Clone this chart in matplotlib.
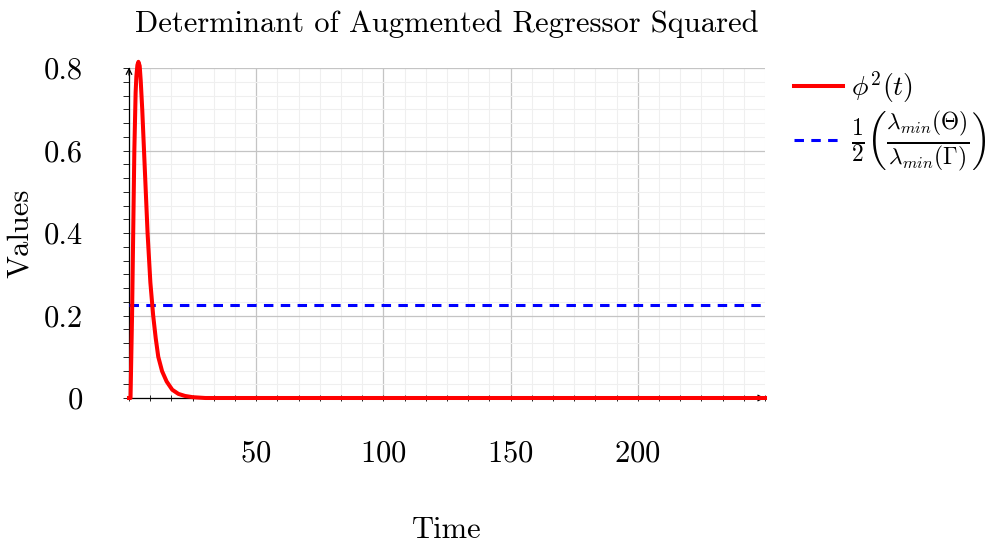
import numpy as np
import matplotlib
matplotlib.use("Agg")
import matplotlib.pyplot as plt
from matplotlib.ticker import MultipleLocator, FixedLocator

plt.rcParams['font.family'] = 'cmr10'
plt.rcParams['mathtext.fontset'] = 'cm'
plt.rcParams['axes.unicode_minus'] = False
plt.rcParams['axes.formatter.use_mathtext'] = True

# phi^2(t) samples and the constant bound
time = [0, 0.6, 1.2, 2.1, 2.6, 2.9, 3.3, 3.7, 4.2, 4.6, 5.2, 5.9, 6.6, 7.3,
        8.4, 9.5, 10.5, 11.5, 13.0, 14.8, 17.0, 19.4, 22.0, 25.0, 30.0, 250]
phi_sq = [0, 0, 0.2, 0.6, 0.74, 0.78, 0.807, 0.815, 0.805, 0.77, 0.7, 0.6,
          0.5, 0.4, 0.28, 0.2, 0.145, 0.1, 0.065, 0.04, 0.02, 0.01, 0.005,
          0.002, 0, 0]
bound_t = [0, 250]
bound = [0.225, 0.225]

x_major = [50, 100, 150, 200]
y_major = [0, 0.2, 0.4, 0.6, 0.8]
y_labels = ["0", "0.2", "0.4", "0.6", "0.8"]

fig = plt.figure(figsize=(9.98, 5.44), dpi=100)
ax = fig.add_axes([129/998, 146/544, 636/998, 330/544])

ax.plot(time, phi_sq, color='#ff0000', lw=2.9, label=r'$\phi^2(t)$',
        clip_on=False, zorder=4, solid_joinstyle='round')
ax.plot(bound_t, bound, color='#0000ff', lw=2.2, dashes=(3.1, 2.4),
        label=r'$\frac{1}{2}\left(\frac{\lambda_{min}(\mathbf{\Theta})}{\lambda_{min}(\mathbf{\Gamma})}\right)$',
        zorder=3)

ax.set_xlim(0, 250)
ax.set_ylim(0, 0.8)
ax.xaxis.set_major_locator(FixedLocator(x_major))
ax.xaxis.set_minor_locator(MultipleLocator(50/6))
ax.set_yticks(y_major)
ax.set_yticklabels(y_labels)
ax.yaxis.set_minor_locator(MultipleLocator(0.2/6))

ax.grid(which='major', color='#c4c4c4', lw=0.9)
ax.grid(which='minor', color='#efefef', lw=0.8)
ax.set_axisbelow(True)

ax.tick_params(axis='x', which='both', direction='inout', length=5, width=0.6,
               labelsize=22, pad=28)
ax.tick_params(axis='y', which='both', direction='out', length=4, width=0.6,
               labelsize=22, pad=29)

for side in ('top', 'right'):
    ax.spines[side].set_visible(False)
for side in ('left', 'bottom'):
    ax.spines[side].set_linewidth(0.9)

# arrow heads on the axis lines
ax.annotate('', xy=(1.004, 0), xytext=(0.98, 0), xycoords='axes fraction',
            arrowprops=dict(arrowstyle='->', color='k', lw=0.9, mutation_scale=10))
ax.annotate('', xy=(0, 1.01), xytext=(0, 0.97), xycoords='axes fraction',
            arrowprops=dict(arrowstyle='->', color='k', lw=0.9, mutation_scale=10))

ax.set_title('Determinant of Augmented Regressor Squared', fontsize=22, pad=26)
ax.set_xlabel('Time', fontsize=22, labelpad=35)
ax.set_ylabel('Values', fontsize=22, labelpad=7)

leg = ax.legend(loc='upper left', bbox_to_anchor=(1.028, 1.03), frameon=False,
                fontsize=20, handlelength=1.75, handletextpad=0.3,
                labelspacing=0.15, borderaxespad=0.0)
leg.get_texts()[1].set_fontsize(24)

fig.savefig('out.png', dpi=100)
